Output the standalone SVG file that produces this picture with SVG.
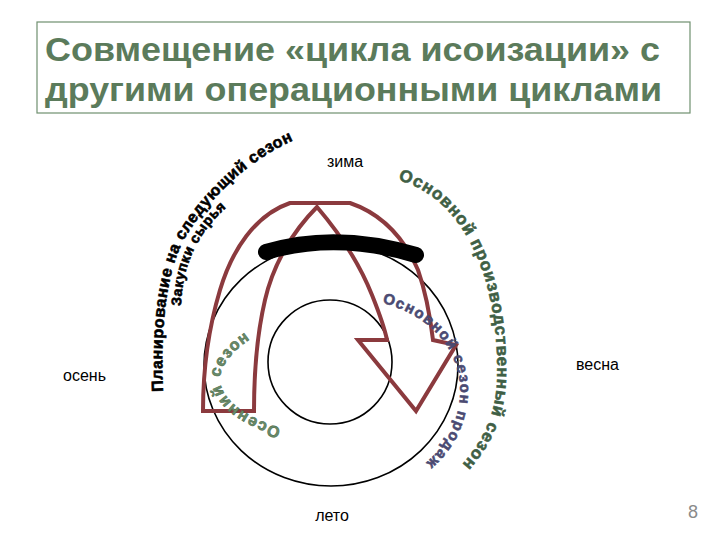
<svg xmlns="http://www.w3.org/2000/svg" width="720" height="540" viewBox="0 0 720 540">
<style>
.title{font-family:"Liberation Sans",Arial,sans-serif;font-weight:bold;font-size:33px;fill:#5b7b5b}
.lbl{font-family:"Liberation Sans",Arial,sans-serif;font-size:16px;fill:#000}
.arc{font-family:"Liberation Sans",Arial,sans-serif;font-weight:bold;stroke-width:0.6}
.blk{fill:#000;stroke:#000}
.grn{fill:#3f5f45;stroke:#3f5f45}
.blu{fill:#4a4a72;stroke:#4a4a72}
.lgr{fill:#6a8c6a;stroke:#4f6f4f}
.ring{fill:none;stroke:#000;stroke-width:1.6}
.arrow{fill:none;stroke:#8b3a3e;stroke-width:4;stroke-linejoin:miter}
</style>
<defs>
<path id="pPlan" d="M 163 392 C 160 320, 168 268, 185 238 C 205 205, 240 165, 292 141"/>
<path id="pZak" d="M 181 306 C 182 268, 196 232, 232 203"/>
<path id="pProd" d="M 398 180 C 470 200, 500 290, 497 380 C 495 420, 480 445, 458 469"/>
<path id="pSale" d="M 382 303 C 430 315, 462 350, 460 395 C 458 425, 445 448, 420 468"/>
<path id="pAut" d="M 281 428 C 250 419, 222 401, 220 381 C 219 365, 235 348, 257 335"/>
</defs>
<rect width="720" height="540" fill="#fff"/>
<g id="title">
<rect x="37" y="22" width="653" height="91" fill="none" stroke="#6f8f6f" stroke-width="1.2"/>
<text class="title" x="45" y="61" textLength="615" lengthAdjust="spacingAndGlyphs">Совмещение «цикла исоизации» с</text>
<text class="title" x="45" y="101" textLength="617" lengthAdjust="spacingAndGlyphs">другими операционными циклами</text>
</g>
<g id="rings">
<ellipse class="ring" cx="331" cy="365" rx="127" ry="121"/>
<circle class="ring" cx="330" cy="362" r="62"/>
</g>
<g id="connectors">
<path id="cycle-arrow" class="arrow" d="M 203 411 L 254 411 C 254 370, 258 330, 265 300 C 273 265, 292 232, 317 207 C 335 228, 358 260, 372 295 C 380 315, 385 330, 387 340 L 358 340 L 416 411 L 456 345 L 433 340 C 430 315, 425 290, 418 270 C 405 240, 385 215, 350 203 L 290 203 C 255 215, 232 250, 220 290 C 208 330, 203 370, 203 411 Z"/>
</g>
<g id="blob">
<path d="M 266 252 Q 336 231 416 255" fill="none" stroke="#000" stroke-width="16" stroke-linecap="round"/>
</g>
<g id="label-plan">
<text class="arc blk" font-size="16" letter-spacing="0.6"><textPath href="#pPlan">Планирование на следующий сезон</textPath></text>
</g>
<g id="label-zak">
<text class="arc blk" font-size="14" letter-spacing="0.6"><textPath href="#pZak">Закупки сырья</textPath></text>
</g>
<g id="label-prod">
<text class="arc grn" font-size="17" letter-spacing="0.9"><textPath href="#pProd">Основной производственный сезон</textPath></text>
</g>
<g id="label-sale">
<text class="arc blu" font-size="15" letter-spacing="1.4"><textPath href="#pSale">Основной сезон продаж</textPath></text>
</g>
<g id="label-autumn">
<text class="arc lgr" font-size="16" letter-spacing="1.3"><textPath href="#pAut">Осенний сезон</textPath></text>
</g>
<g id="seasons">
<text class="lbl" x="345" y="167" text-anchor="middle">зима</text>
<text class="lbl" x="63" y="381">осень</text>
<text class="lbl" x="576" y="370">весна</text>
<text class="lbl" x="332" y="521" text-anchor="middle">лето</text>
</g>
<text x="693" y="518" text-anchor="middle" font-family="Liberation Sans,Arial,sans-serif" font-size="18" fill="#8a8a8a">8</text>
</svg>
